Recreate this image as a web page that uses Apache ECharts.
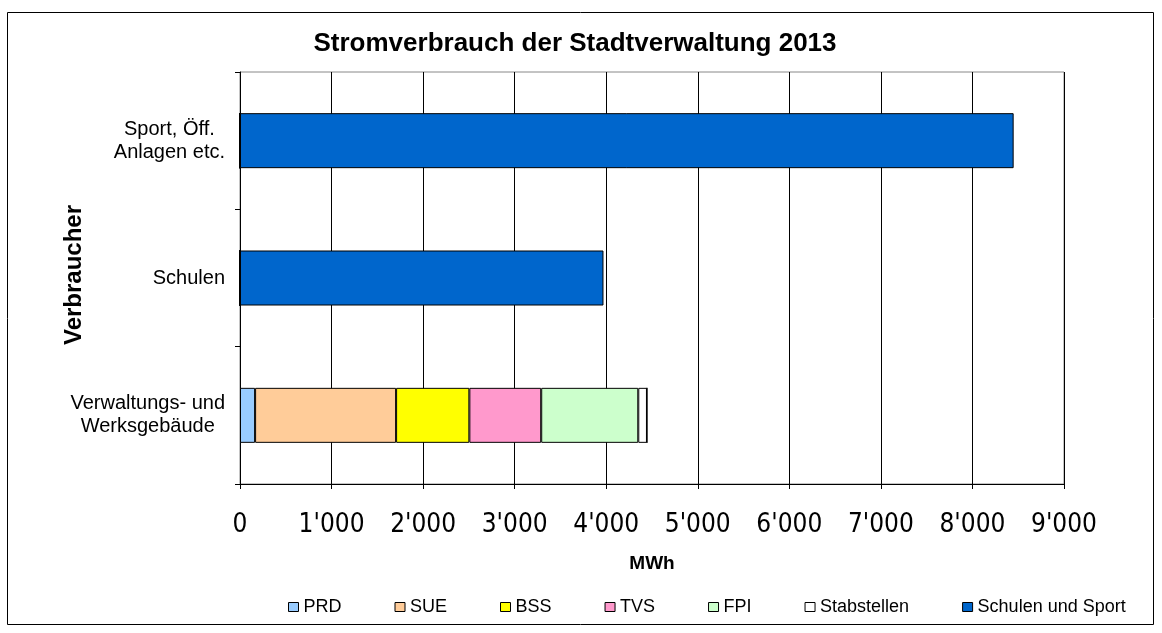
<!DOCTYPE html>
<html>
<head>
<meta charset="utf-8">
<script src="https://cdn.jsdelivr.net/npm/echarts@6/dist/echarts.min.js"></script>
<style>
  html, body { margin: 0; padding: 0; background: #fff; }
  #chart { width: 1162px; height: 633px; }
</style>
</head>
<body>
<div id="chart"></div>
<script>
// Kategorien (von unten nach oben)
const categories = ['Verwaltungs- und\nWerksgebäude', 'Schulen', 'Sport, Öff.\nAnlagen etc.']
// Werte in MWh je Verbraucher
const prd = [165, 0, 0]
const sue = [1540, 0, 0]
const bss = [800, 0, 0]
const tvs = [785, 0, 0]
const fpi = [1060, 0, 0]
const stabstellen = [95, 0, 0]
const schulenSport = [0, 3970, 8450]
const seriesNames = ['PRD', 'SUE', 'BSS', 'TVS', 'FPI', 'Stabstellen', 'Schulen und Sport']
const seriesColors = ['#99CCFF', '#FFCC99', '#FFFF00', '#FF99CC', '#CCFFCC', '#FFFFFF', '#0066CC']
const seriesData = [prd, sue, bss, tvs, fpi, stabstellen, schulenSport]

const fontFamily = '"Liberation Sans", Arial, sans-serif'

// Tausendertrennzeichen wie im Original: 1'000
function fmt(v) {
  return String(v).replace(/\B(?=(\d{3})+(?!\d))/g, "'")
}

const myChart = echarts.init(document.getElementById('chart'))

const option = {
  animation: false,
  backgroundColor: '#fff',
  textStyle: { fontFamily: fontFamily },
  title: {
    text: 'Stromverbrauch der Stadtverwaltung 2013',
    left: 570,
    textAlign: 'center',
    top: 26,
    textStyle: { fontSize: 26, fontWeight: 'bold', color: '#000', fontFamily: fontFamily }
  },
  legend: {
    data: seriesNames,
    left: 283,
    top: 593,
    itemGap: 53,
    itemWidth: 10,
    itemHeight: 9,
    icon: 'rect',
    itemStyle: { borderColor: '#000', borderWidth: 1 },
    textStyle: { fontSize: 18, color: '#000', fontFamily: fontFamily }
  },
  grid: {
    left: 240,
    right: 98,
    top: 72,
    bottom: 149,
    show: true,
    borderColor: '#888',
    borderWidth: 1
  },
  xAxis: {
    type: 'value',
    min: 0,
    max: 9000,
    interval: 1000,
    name: 'MWh',
    nameLocation: 'middle',
    nameGap: 70,
    nameTextStyle: { fontSize: 19, fontWeight: 'bold', color: '#000' },
    axisLine: { show: true, lineStyle: { color: '#000', width: 1 } },
    axisTick: { show: true, length: 5, lineStyle: { color: '#000' } },
    axisLabel: {
      color: '#000',
      fontSize: 26,
      margin: 28,
      fontFamily: '"Liberation Sans Narrow", "DejaVu Sans Condensed", sans-serif',
      formatter: fmt
    },
    splitLine: { show: true, lineStyle: { color: '#000', width: 1 } }
  },
  yAxis: {
    type: 'category',
    data: categories,
    axisLine: { show: true, lineStyle: { color: '#000', width: 1 } },
    axisTick: { show: true, length: 5, lineStyle: { color: '#000' } },
    axisLabel: {
      margin: 15,
      // Zeilen innerhalb des Blocks zentriert, wie in Excel
      formatter: function (v) {
        return v.split('\n').map(function (l) { return '{c|' + l + '}' }).join('\n')
      },
      rich: {
        c: { align: 'center', fontSize: 20, lineHeight: 23, color: '#000', fontFamily: fontFamily }
      }
    },
    splitLine: { show: false }
  },
  series: seriesNames.map(function (name, i) {
    return {
      name: name,
      type: 'bar',
      stack: 'total',
      barWidth: 55,
      data: seriesData[i],
      itemStyle: { color: seriesColors[i], borderColor: '#000', borderWidth: 1 }
    }
  }),
  graphic: [{
    type: 'rect',
    shape: { x: 7.5, y: 12.5, width: 1146, height: 612 },
    style: { fill: 'none', stroke: '#000', lineWidth: 1 },
    silent: true,
    z: 100
  }, {
    // Achsentitel links, quer gestellt
    type: 'text',
    x: 74,
    y: 275,
    rotation: Math.PI / 2,
    style: {
      text: 'Verbraucher',
      fill: '#000',
      font: 'bold 24px ' + fontFamily,
      align: 'center',
      verticalAlign: 'middle'
    },
    silent: true
  }]
}

myChart.setOption(option)
</script>
</body>
</html>
